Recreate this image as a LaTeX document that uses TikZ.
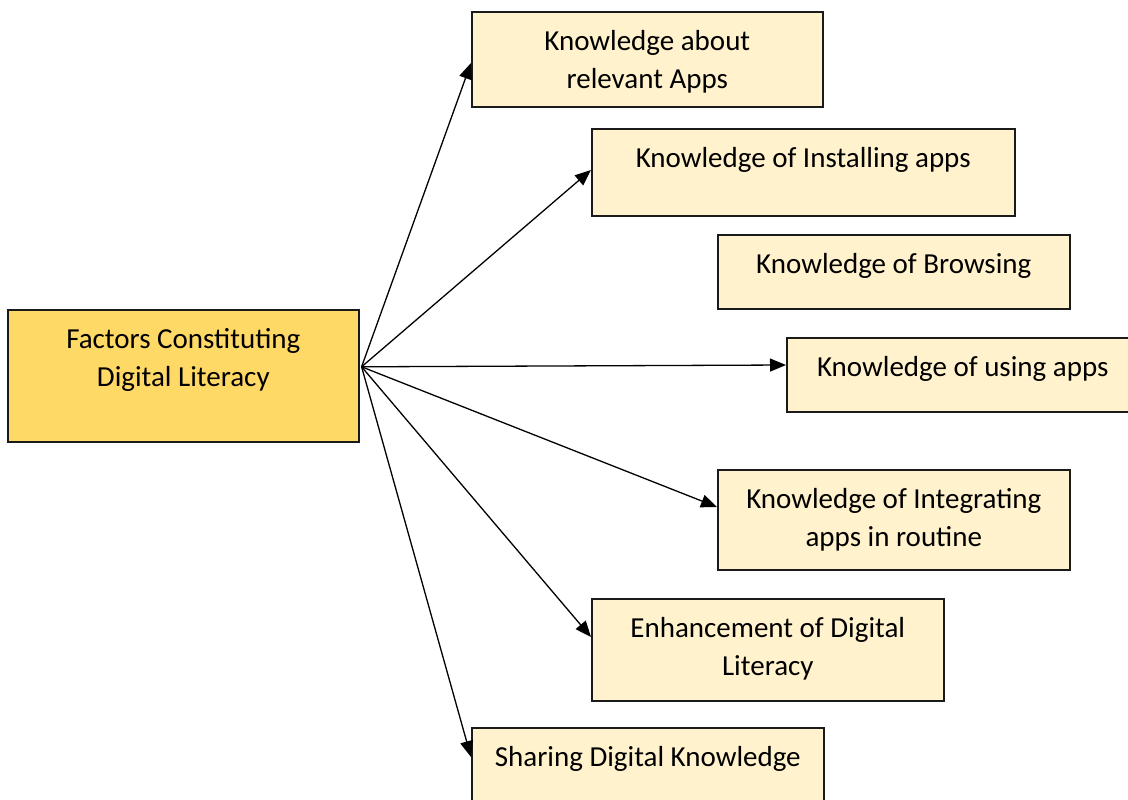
\documentclass[tikz,border=0pt]{standalone}
\usepackage{fontspec}
\setmainfont{Carlito}
\usetikzlibrary{arrows.meta,calc}
\definecolor{mainfill}{HTML}{FFD966}
\definecolor{boxfill}{HTML}{FFF2CC}
\definecolor{edge}{HTML}{1A1A1A}
\newcommand\boxtext[3]{\parbox[c][#2][t]{#1}{\centering\rule{0pt}{39pt}#3}}
\begin{document}
\begin{tikzpicture}[x=1pt,y=-1pt,
  box/.style={draw=edge,line width=1.6pt,inner sep=0pt,anchor=north west,
    font=\fontsize{29pt}{38pt}\selectfont},
  leaf/.style={box,fill=boxfill},
  arr/.style={line width=1.3pt,-{Triangle[length=16pt,width=13pt]}}]
\useasboundingbox (0,0) rectangle (1128,800);
\clip (0,0) rectangle (1128,800);
\fill[white] (0,0) rectangle (1128,800);
\node[box,fill=mainfill] (main) at (7,309) {\boxtext{351pt}{132pt}{Factors Constituting\\Digital Literacy}};
\node[leaf] (b1) at (471,11) {\boxtext{351pt}{95pt}{Knowledge about\\relevant Apps}};
\node[leaf] (b2) at (591,128) {\boxtext{423pt}{87pt}{Knowledge of Installing apps}};
\node[leaf] (b3) at (717,234) {\boxtext{352pt}{74pt}{Knowledge of Browsing}};
\node[leaf] (b4) at (786,337) {\boxtext{352pt}{74pt}{Knowledge of using apps}};
\node[leaf] (b5) at (717,469) {\boxtext{352pt}{100pt}{Knowledge of Integrating\\apps in routine}};
\node[leaf] (b6) at (591,598) {\boxtext{352pt}{102pt}{Enhancement of Digital\\Literacy}};
\node[leaf] (b7) at (471,727) {\boxtext{352pt}{90pt}{Sharing Digital Knowledge}};
\coordinate (src) at ($(main.east)+(2,-9)$);
\coordinate (e1) at ($(b1.north west)+(0,52)$);
\coordinate (e2) at ($(b2.north west)+(0,42)$);
\coordinate (e4) at ($(b4.north west)+(0,28)$);
\coordinate (e5) at ($(b5.north west)+(0,38)$);
\coordinate (e6) at ($(b6.north west)+(0,39)$);
\coordinate (e7) at ($(b7.north west)+(0,30)$);
\foreach \e in {e1,e2,e4,e5,e6,e7} \draw[arr] (src) -- (\e);
\end{tikzpicture}
\end{document}
